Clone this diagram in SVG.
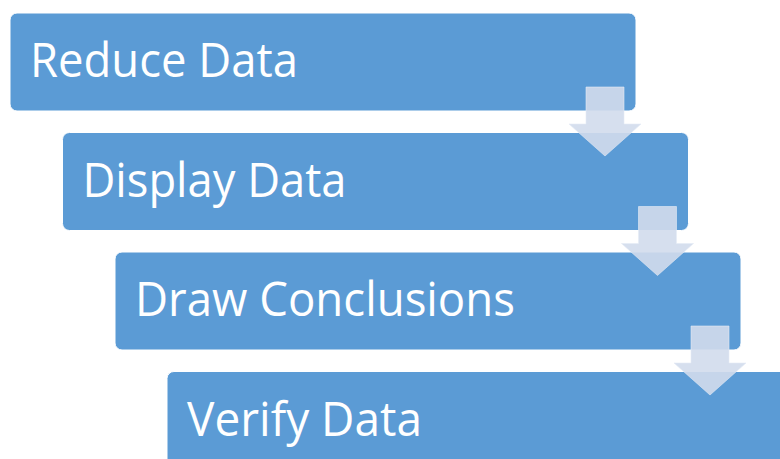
<svg xmlns="http://www.w3.org/2000/svg" width="780" height="459" viewBox="0 0 780 459">
<style>
.box{fill:#5b9bd5;stroke:#ffffff;stroke-width:1}
.lbl{font-family:"Open Sans","Liberation Sans",sans-serif;font-size:47px;fill:#ffffff}
.arr{fill:#d1dcec;fill-opacity:0.9;stroke:#e4ebf5;stroke-opacity:0.6;stroke-width:1}
</style>
<rect width="780" height="459" fill="#ffffff"/>
<g id="node1"><rect class="box" x="10" y="13" width="626" height="98" rx="7"/><text class="lbl" x="30" y="77" textLength="268" lengthAdjust="spacingAndGlyphs">Reduce Data</text></g>
<g id="node2"><rect class="box" x="62.5" y="132.5" width="626" height="98" rx="7"/><text class="lbl" x="82.5" y="196.5" textLength="264" lengthAdjust="spacingAndGlyphs">Display Data</text></g>
<g id="node3"><rect class="box" x="115" y="252" width="626" height="98" rx="7"/><text class="lbl" x="135" y="316" textLength="380" lengthAdjust="spacingAndGlyphs">Draw Conclusions</text></g>
<g id="node4"><rect class="box" x="167" y="371.5" width="626" height="98" rx="7"/><text class="lbl" x="187" y="435.5" textLength="235" lengthAdjust="spacingAndGlyphs">Verify Data</text></g>
<g id="connectors">
<polygon class="arr" points="586,87 624,87 624,124 641,124 605,156 569,124 586,124"/>
<polygon class="arr" points="638.5,206.5 676.5,206.5 676.5,243.5 693.5,243.5 657.5,275.5 621.5,243.5 638.5,243.5"/>
<polygon class="arr" points="691,326 729,326 729,363 746,363 710,395 674,363 691,363"/>
</g>
</svg>
